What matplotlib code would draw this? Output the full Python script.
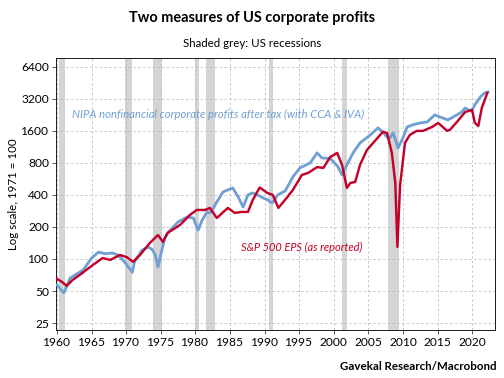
import matplotlib
matplotlib.use("Agg")
import matplotlib.pyplot as plt
from matplotlib.ticker import FixedLocator, NullLocator

plt.rcParams['font.family'] = ['Lato', 'DejaVu Sans']

# NIPA nonfinancial corporate profits after tax (1971 = 100)
nipa_year = [1960.0, 1960.5, 1961.0, 1961.9, 1962.8, 1963.8, 1965.0, 1966.0, 1967.0,
             1968.0, 1968.8, 1969.5, 1970.0, 1970.3, 1970.6, 1970.9, 1971.2, 1972.3,
             1973.2, 1973.8, 1974.2, 1974.6, 1975.0, 1975.6, 1976.0, 1977.5, 1978.8,
             1979.7, 1980.4, 1981.0, 1981.7, 1982.1, 1982.6, 1983.1, 1984.0, 1985.4,
             1986.2, 1986.9, 1987.6, 1988.3, 1989.3, 1989.8, 1990.5, 1990.8, 1991.2,
             1991.9, 1993.0, 1994.1, 1995.1, 1996.6, 1997.6, 1998.3, 1999.5, 2000.6,
             2001.2, 2001.9, 2002.8, 2003.8, 2005.3, 2006.4, 2007.1, 2007.7, 2008.1,
             2008.6, 2009.3, 2010.0, 2010.6, 2011.5, 2012.5, 2013.5, 2014.6, 2015.7,
             2016.5, 2017.8, 2018.5, 2019.0, 2019.8, 2020.0, 2020.4, 2021.2, 2021.8,
             2022.3]
nipa_value = [57, 52, 48, 66, 72, 79, 102, 116, 112,
              114, 109, 98, 90, 84, 80, 75, 94, 121,
              130, 122, 109, 84, 110, 158, 176, 223, 248,
              243, 187, 233, 277, 271, 300, 344, 427, 466,
              383, 308, 400, 418, 390, 375, 359, 343, 340,
              400, 437, 591, 718, 800, 994, 891, 880, 740,
              617, 766, 994, 1234, 1467, 1707, 1566, 1400, 1375,
              1530, 1107, 1370, 1740, 1830, 1900, 1940, 2260, 2120,
              2030, 2260, 2410, 2630, 2450, 2520, 2820, 3340, 3640,
              3720]

# S&P 500 EPS as reported (1971 = 100)
sp_year = [1960.0, 1960.7, 1961.4, 1962.2, 1963.8, 1965.2, 1966.6, 1967.7, 1969.1,
           1970.1, 1971.0, 1972.0, 1973.4, 1974.6, 1975.3, 1976.0, 1977.8, 1979.2,
           1980.2, 1981.4, 1982.1, 1983.1, 1983.9, 1984.7, 1985.7, 1986.7, 1987.6,
           1988.3, 1989.3, 1990.4, 1991.2, 1992.0, 1993.2, 1994.1, 1995.4, 1996.3,
           1997.6, 1998.5, 1999.5, 2000.5, 2001.2, 2001.9, 2002.4, 2003.1, 2003.8,
           2004.8, 2005.7, 2007.1, 2007.7, 2008.4, 2008.9, 2009.2, 2009.6, 2010.3,
           2011.0, 2012.0, 2012.9, 2014.2, 2015.1, 2016.4, 2016.8, 2017.8, 2019.0,
           2020.0, 2020.4, 2020.9, 2021.4, 2022.2]
sp_value = [65, 61, 56, 63, 75, 88, 102, 98, 109,
            104, 94, 109, 141, 168, 145, 176, 209, 259,
            289, 289, 302, 243, 271, 302, 271, 277, 277,
            359, 470, 418, 400, 302, 375, 446, 617, 644,
            731, 718, 910, 994, 766, 466, 518, 530, 766,
            1058, 1234, 1566, 1530, 994, 518, 130, 500, 1234,
            1467, 1600, 1600, 1740, 1900, 1600, 1640, 1940, 2410,
            2520, 1900, 1780, 2630, 3640]

# US recessions (start, end)
rec_start = [1960.3, 1969.9, 1973.9, 1980.0, 1981.5, 1990.6, 2001.2, 2007.9]
rec_end = [1961.1, 1970.9, 1975.2, 1980.5, 1982.9, 1991.2, 2001.9, 2009.5]

y_ticks = [25, 50, 100, 200, 400, 800, 1600, 3200, 6400]
x_ticks = list(range(1960, 2025, 5))

fig = plt.figure(figsize=(7, 5.25), dpi=72)
ax = fig.add_axes([0.111, 0.127, 0.871, 0.72])

for s, e in zip(rec_start, rec_end):
    ax.axvspan(s, e, color='#d4d4d4', lw=0, zorder=0)

ax.plot(nipa_year, nipa_value, color='#6f9fd3', lw=2.8, zorder=3)
ax.plot(sp_year, sp_value, color='#c20029', lw=2.4, zorder=4)

ax.set_yscale('log')
ax.set_ylim(21.5, 7780)
ax.set_xlim(1959.85, 2023.3)
ax.yaxis.set_major_locator(FixedLocator(y_ticks))
ax.yaxis.set_minor_locator(NullLocator())
ax.set_yticks(y_ticks)
ax.set_yticklabels([str(v) for v in y_ticks])
ax.set_xticks(x_ticks)
ax.tick_params(labelsize=12, length=4, color='#333333', pad=3)
ax.grid(True, color='#bbbbbb', ls=(0, (3, 3)), lw=0.8)
ax.set_axisbelow(True)
for sp in ax.spines.values():
    sp.set_color('#222222')
    sp.set_linewidth(1.0)

ax.set_ylabel('Log scale, 1971 = 100', fontsize=11.5)
ax.yaxis.set_label_coords(-0.085, 0.5)

ax.text(1962.2, 2300, 'NIPA nonfinancial corporate profits after tax (with CCA & IVA)',
        color='#6f9fd3', style='italic', fontsize=11.3, va='center')
ax.text(1986.6, 128, 'S&P 500 EPS (as reported)', color='#c20029',
        style='italic', fontsize=11, va='center')

fig.text(0.5, 0.952, 'Two measures of US corporate profits', ha='center', va='center',
         fontsize=14.5, fontweight='bold')
fig.text(0.5, 0.885, 'Shaded grey: US recessions', ha='center', va='center', fontsize=11.5)
fig.text(0.986, 0.03, 'Gavekal Research/Macrobond', ha='right', va='center',
         fontsize=11.5, fontweight='bold')

fig.savefig('out.png', dpi=72)
